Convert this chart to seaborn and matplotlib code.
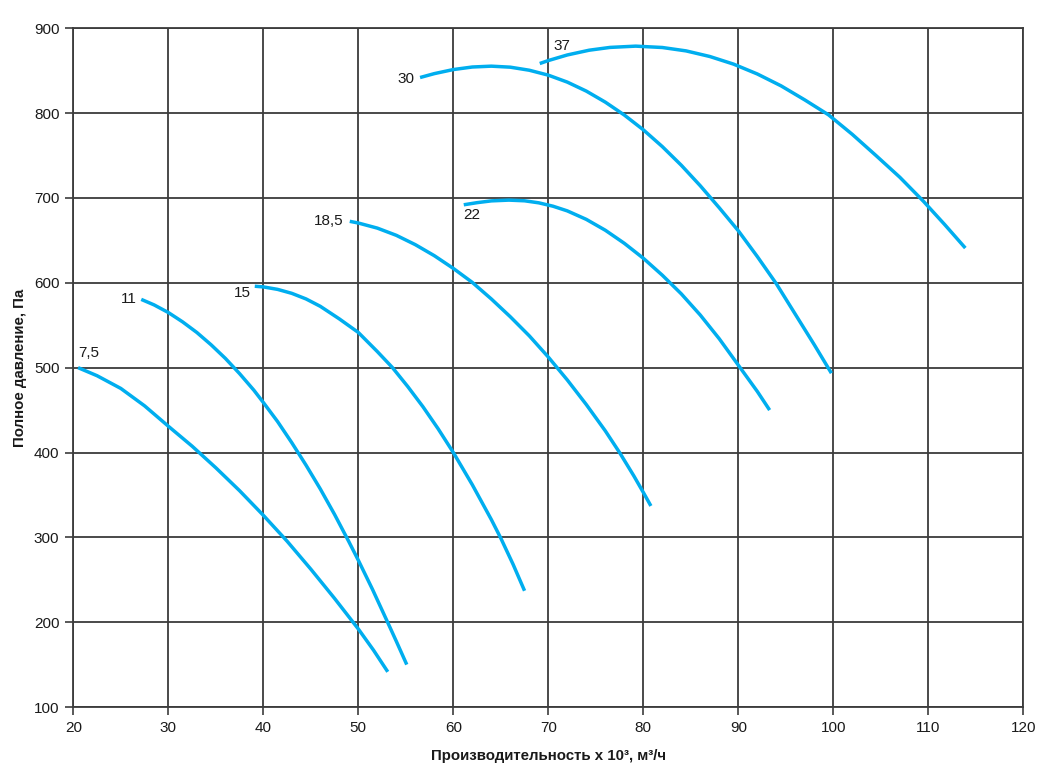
import pandas as pd
import numpy as np
import matplotlib.pyplot as plt
import seaborn as sns

# ── данные (Q в тыс. м³/ч, P в Па) ───────────────────────────────────────────
q_7_5 = [20.5, 22.5, 25.0, 27.5, 30.0, 32.5, 35.0, 37.5, 40.0, 42.5, 45.0, 47.5, 50.0, 51.6, 53.1]
p_7_5 = [500, 490.5, 475.5, 455, 431, 407.5, 382, 355, 326, 295.5, 262.5, 228, 192, 167, 141.5]

q_11 = [27.15, 28.5, 30.0, 31.5, 33.0, 34.5, 36.0, 37.5, 39.0, 40.0, 41.5, 43.0, 44.5, 46.0,
        47.5, 49.0, 50.0, 51.5, 53.0, 54.0, 55.1]
p_11 = [580.5, 574, 565, 554, 541.5, 527, 511, 493, 473.5, 459, 436.5, 411.5, 385, 357,
        327, 295, 273, 238.5, 202, 177.5, 150]

q_15 = [39.1, 40.0, 41.5, 43.0, 44.5, 46.0, 48.0, 50.0, 52.0, 53.6, 55.2, 56.8, 58.4, 60.0,
        62.0, 64.0, 65.0, 66.3, 67.5]
p_15 = [596, 595.2, 592.3, 587.6, 581, 572.3, 557.5, 541.5, 519, 500, 477.8, 454, 428, 400,
        362, 321, 299, 268, 237]

q_18_5 = [49.1, 50.0, 52.0, 54.0, 56.0, 58.0, 60.0, 62.0, 64.0, 66.0, 68.0, 70.0, 72.0, 74.0,
          76.0, 77.5, 79.0, 80.0, 80.8]
p_18_5 = [672.5, 670.5, 664.5, 656, 645, 632, 617, 600.5, 581, 560, 537.5, 512.5, 485.5, 456.5,
          425.5, 400, 372.5, 353, 337]

q_22 = [61.1, 62.5, 64.0, 65.85, 67.5, 69.0, 70.5, 72.0, 74.0, 76.0, 78.0, 80.0, 82.0, 84.0,
        86.0, 88.0, 90.0, 92.0, 93.3]
p_22 = [692, 694.5, 696.6, 697.5, 696.7, 694.3, 690.3, 684.8, 674.8, 662, 646.6, 629, 609, 587,
        562, 534, 503, 472, 450]

q_30 = [56.5, 58.0, 60.0, 62.0, 64.0, 66.0, 68.0, 70.0, 72.0, 74.0, 76.0, 78.0, 80.0, 82.0,
        84.0, 86.0, 88.0, 90.0, 92.0, 94.0, 96.0, 98.0, 99.8]
p_30 = [842, 846.6, 851.4, 854.4, 855.4, 854.2, 850.6, 844.8, 836.6, 826, 813, 797.8, 780.4, 760.6,
        738.6, 714.4, 688.4, 661.4, 631, 599, 563, 527, 493.5]

q_37 = [69.1, 70.0, 72.0, 74.3, 76.5, 79.2, 82.0, 84.5, 87.0, 89.5, 92.0, 94.5, 97.0, 99.5,
        102.0, 104.5, 107.0, 109.5, 111.7, 113.9]
p_37 = [858.5, 862, 868.6, 874.2, 877.5, 879, 877.4, 873.4, 866.8, 857.8, 846.2, 832.2, 815.6, 798,
        775, 750, 724.5, 696, 669, 641]

# подписи мощностей двигателей, кВт
labels = ['7,5', '11', '15', '18,5', '22', '30', '37']

curves = [(q_7_5, p_7_5), (q_11, p_11), (q_15, p_15), (q_18_5, p_18_5),
          (q_22, p_22), (q_30, p_30), (q_37, p_37)]
df = pd.concat([pd.DataFrame({'Q': q, 'P': p, 'curve': lab})
                for lab, (q, p) in zip(labels, curves)], ignore_index=True)

# ── оформление ────────────────────────────────────────────────────────────────
sns.set_style('ticks')
plt.rcParams['font.family'] = ['Liberation Sans', 'DejaVu Sans']
GOLUBOY = '#00AEEF'; SETKA = '#3C3C3C'; TEXT = '#1A1A1A'

fig = plt.figure(figsize=(10.52, 7.76), dpi=100)
ax = fig.add_axes([0.0697, 0.0889, 0.903, 0.8746])

sns.lineplot(data=df, x='Q', y='P', units='curve', estimator=None, sort=False,
             color=GOLUBOY, lw=2.5, ax=ax, legend=False,
             solid_joinstyle='round', solid_capstyle='butt')

ax.set_xlim(20, 120); ax.set_ylim(100, 900)
ax.set_xticks(np.arange(20, 121, 10)); ax.set_yticks(np.arange(100, 901, 100))
ax.grid(True, color=SETKA, lw=1.3)
ax.set_axisbelow(True)
for sp in ax.spines.values():
    sp.set_visible(True); sp.set_color(SETKA); sp.set_linewidth(1.3)
ax.tick_params(direction='out', length=6, width=1.2, color=SETKA,
               labelsize=11, labelcolor=TEXT, pad=4)

ax.set_xlabel('Производительность х 10³, м³/ч', fontsize=10.8, fontweight='bold',
              color=TEXT, labelpad=10)
ax.set_ylabel('Полное давление, Па', fontsize=10.8, fontweight='bold',
              color=TEXT, labelpad=5)

# подписи кривых у начальных точек
lab_pos = {'7,5': (20.5, 517, 'left'), '11': (26.7, 581, 'right'),
           '15': (38.7, 588, 'right'), '18,5': (48.4, 673, 'right'),
           '22': (61.0, 680, 'left'), '30': (55.9, 840, 'right'),
           '37': (70.5, 879, 'left')}
for lab in labels:
    x, y, ha = lab_pos[lab]
    ax.text(x, y, lab, ha=ha, va='center', fontsize=11, color=TEXT)

plt.savefig('out.png', dpi=100, facecolor='white')
plt.close()
